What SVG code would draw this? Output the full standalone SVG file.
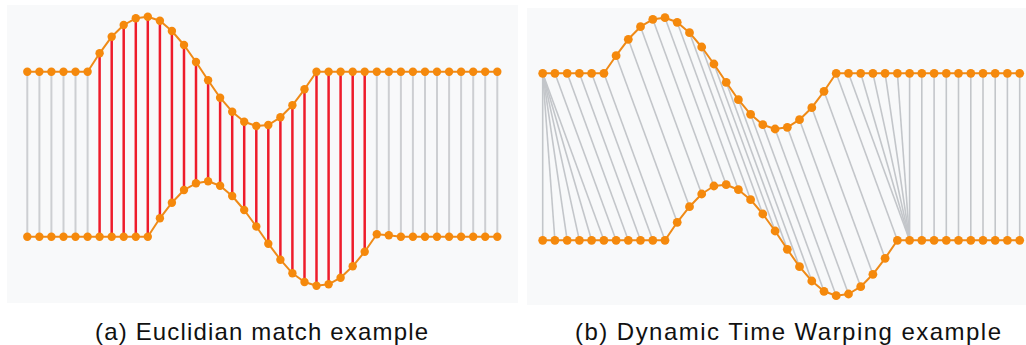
<svg xmlns="http://www.w3.org/2000/svg" width="1026" height="345" viewBox="0 0 1026 345">
<style>
.bg{fill:#f8f9fa}
.g{stroke:#cdcfd2;stroke-width:2;fill:none}
.r{stroke:#ee1c2b;stroke-width:2.5;fill:none}
.dg{stroke:#c3c6ca;stroke-width:1.6;fill:none}
.s{stroke:#ef8a17;stroke-width:2;fill:none;stroke-linejoin:round}
.d{fill:#f5890c}
.cap{font-family:"Liberation Sans",Arial,sans-serif;font-size:24px;fill:#111}
</style>
<rect class="bg" x="7" y="5" width="511" height="298"/>
<rect class="bg" x="527" y="8" width="499" height="297"/>

<g id="panel-a">
<g id="connectors-a">
<line class="g" x1="27.3" y1="71.7" x2="27.3" y2="236.7"/>
<line class="g" x1="39.4" y1="71.7" x2="39.4" y2="236.7"/>
<line class="g" x1="51.4" y1="71.7" x2="51.4" y2="236.7"/>
<line class="g" x1="63.5" y1="71.7" x2="63.5" y2="236.7"/>
<line class="g" x1="75.5" y1="71.7" x2="75.5" y2="236.7"/>
<line class="g" x1="87.6" y1="71.7" x2="87.6" y2="236.7"/>
<line class="g" x1="376.8" y1="71.7" x2="376.8" y2="234.3"/>
<line class="g" x1="388.8" y1="71.7" x2="388.8" y2="235.3"/>
<line class="g" x1="400.9" y1="71.7" x2="400.9" y2="236.7"/>
<line class="g" x1="412.9" y1="71.7" x2="412.9" y2="236.7"/>
<line class="g" x1="425" y1="71.7" x2="425" y2="236.7"/>
<line class="g" x1="437" y1="71.7" x2="437" y2="236.7"/>
<line class="g" x1="449.1" y1="71.7" x2="449.1" y2="236.7"/>
<line class="g" x1="461.1" y1="71.7" x2="461.1" y2="236.7"/>
<line class="g" x1="473.2" y1="71.7" x2="473.2" y2="236.7"/>
<line class="g" x1="485.2" y1="71.7" x2="485.2" y2="236.7"/>
<line class="g" x1="497.3" y1="71.7" x2="497.3" y2="236.7"/>
<line class="r" x1="99.6" y1="53.3" x2="99.6" y2="236.7"/>
<line class="r" x1="111.7" y1="36.7" x2="111.7" y2="236.7"/>
<line class="r" x1="123.7" y1="25" x2="123.7" y2="236.7"/>
<line class="r" x1="135.8" y1="18.3" x2="135.8" y2="236.7"/>
<line class="r" x1="147.8" y1="16.7" x2="147.8" y2="236.7"/>
<line class="r" x1="159.9" y1="20.7" x2="159.9" y2="218.3"/>
<line class="r" x1="171.9" y1="31" x2="171.9" y2="202.7"/>
<line class="r" x1="184" y1="45" x2="184" y2="190"/>
<line class="r" x1="196" y1="62" x2="196" y2="183.3"/>
<line class="r" x1="208.1" y1="80.3" x2="208.1" y2="181.3"/>
<line class="r" x1="220.1" y1="97.7" x2="220.1" y2="185.7"/>
<line class="r" x1="232.2" y1="111.7" x2="232.2" y2="196"/>
<line class="r" x1="244.2" y1="121.7" x2="244.2" y2="210"/>
<line class="r" x1="256.3" y1="126" x2="256.3" y2="226.5"/>
<line class="r" x1="268.3" y1="125" x2="268.3" y2="243.7"/>
<line class="r" x1="280.4" y1="117.3" x2="280.4" y2="259.7"/>
<line class="r" x1="292.4" y1="105.3" x2="292.4" y2="273.3"/>
<line class="r" x1="304.5" y1="89.3" x2="304.5" y2="282"/>
<line class="r" x1="316.5" y1="71.7" x2="316.5" y2="285.7"/>
<line class="r" x1="328.6" y1="71.7" x2="328.6" y2="284.3"/>
<line class="r" x1="340.6" y1="71.7" x2="340.6" y2="277.7"/>
<line class="r" x1="352.7" y1="71.7" x2="352.7" y2="266.3"/>
<line class="r" x1="364.7" y1="71.7" x2="364.7" y2="251.7"/>
</g>
<g id="series-a-top">
<polyline class="s" points="27.3,71.7 87.6,71.7 99.6,53.3 111.7,36.7 123.7,25 135.8,18.3 147.8,16.7 159.9,20.7 171.9,31 184,45 196,62 208.1,80.3 220.1,97.7 232.2,111.7 244.2,121.7 256.3,126 268.3,125 280.4,117.3 292.4,105.3 304.5,89.3 316.5,71.7 497.3,71.7"/>
<circle class="d" r="4.2" cx="27.3" cy="71.7"/><circle class="d" r="4.2" cx="39.4" cy="71.7"/><circle class="d" r="4.2" cx="51.4" cy="71.7"/><circle class="d" r="4.2" cx="63.5" cy="71.7"/><circle class="d" r="4.2" cx="75.5" cy="71.7"/><circle class="d" r="4.2" cx="87.6" cy="71.7"/>
<circle class="d" r="4.2" cx="99.6" cy="53.3"/><circle class="d" r="4.2" cx="111.7" cy="36.7"/><circle class="d" r="4.2" cx="123.7" cy="25"/><circle class="d" r="4.2" cx="135.8" cy="18.3"/><circle class="d" r="4.2" cx="147.8" cy="16.7"/><circle class="d" r="4.2" cx="159.9" cy="20.7"/><circle class="d" r="4.2" cx="171.9" cy="31"/><circle class="d" r="4.2" cx="184" cy="45"/><circle class="d" r="4.2" cx="196" cy="62"/><circle class="d" r="4.2" cx="208.1" cy="80.3"/><circle class="d" r="4.2" cx="220.1" cy="97.7"/><circle class="d" r="4.2" cx="232.2" cy="111.7"/><circle class="d" r="4.2" cx="244.2" cy="121.7"/><circle class="d" r="4.2" cx="256.3" cy="126"/><circle class="d" r="4.2" cx="268.3" cy="125"/><circle class="d" r="4.2" cx="280.4" cy="117.3"/><circle class="d" r="4.2" cx="292.4" cy="105.3"/><circle class="d" r="4.2" cx="304.5" cy="89.3"/>
<circle class="d" r="4.2" cx="316.5" cy="71.7"/><circle class="d" r="4.2" cx="328.6" cy="71.7"/><circle class="d" r="4.2" cx="340.6" cy="71.7"/><circle class="d" r="4.2" cx="352.7" cy="71.7"/><circle class="d" r="4.2" cx="364.7" cy="71.7"/><circle class="d" r="4.2" cx="376.8" cy="71.7"/><circle class="d" r="4.2" cx="388.8" cy="71.7"/><circle class="d" r="4.2" cx="400.9" cy="71.7"/><circle class="d" r="4.2" cx="412.9" cy="71.7"/><circle class="d" r="4.2" cx="425" cy="71.7"/><circle class="d" r="4.2" cx="437" cy="71.7"/><circle class="d" r="4.2" cx="449.1" cy="71.7"/><circle class="d" r="4.2" cx="461.1" cy="71.7"/><circle class="d" r="4.2" cx="473.2" cy="71.7"/><circle class="d" r="4.2" cx="485.2" cy="71.7"/><circle class="d" r="4.2" cx="497.3" cy="71.7"/>
</g>
<g id="series-a-bottom">
<polyline class="s" points="27.3,236.7 147.8,236.7 159.9,218.3 171.9,202.7 184,190 196,183.3 208.1,181.3 220.1,185.7 232.2,196 244.2,210 256.3,226.5 268.3,243.7 280.4,259.7 292.4,273.3 304.5,282 316.5,285.7 328.6,284.3 340.6,277.7 352.7,266.3 364.7,251.7 376.8,234.3 388.8,235.3 400.9,236.7 497.3,236.7"/>
<circle class="d" r="4.2" cx="27.3" cy="236.7"/><circle class="d" r="4.2" cx="39.4" cy="236.7"/><circle class="d" r="4.2" cx="51.4" cy="236.7"/><circle class="d" r="4.2" cx="63.5" cy="236.7"/><circle class="d" r="4.2" cx="75.5" cy="236.7"/><circle class="d" r="4.2" cx="87.6" cy="236.7"/><circle class="d" r="4.2" cx="99.6" cy="236.7"/><circle class="d" r="4.2" cx="111.7" cy="236.7"/><circle class="d" r="4.2" cx="123.7" cy="236.7"/><circle class="d" r="4.2" cx="135.8" cy="236.7"/><circle class="d" r="4.2" cx="147.8" cy="236.7"/>
<circle class="d" r="4.2" cx="159.9" cy="218.3"/><circle class="d" r="4.2" cx="171.9" cy="202.7"/><circle class="d" r="4.2" cx="184" cy="190"/><circle class="d" r="4.2" cx="196" cy="183.3"/><circle class="d" r="4.2" cx="208.1" cy="181.3"/><circle class="d" r="4.2" cx="220.1" cy="185.7"/><circle class="d" r="4.2" cx="232.2" cy="196"/><circle class="d" r="4.2" cx="244.2" cy="210"/><circle class="d" r="4.2" cx="256.3" cy="226.5"/><circle class="d" r="4.2" cx="268.3" cy="243.7"/><circle class="d" r="4.2" cx="280.4" cy="259.7"/><circle class="d" r="4.2" cx="292.4" cy="273.3"/><circle class="d" r="4.2" cx="304.5" cy="282"/><circle class="d" r="4.2" cx="316.5" cy="285.7"/><circle class="d" r="4.2" cx="328.6" cy="284.3"/><circle class="d" r="4.2" cx="340.6" cy="277.7"/><circle class="d" r="4.2" cx="352.7" cy="266.3"/><circle class="d" r="4.2" cx="364.7" cy="251.7"/><circle class="d" r="4.2" cx="376.8" cy="234.3"/><circle class="d" r="4.2" cx="388.8" cy="235.3"/>
<circle class="d" r="4.2" cx="400.9" cy="236.7"/><circle class="d" r="4.2" cx="412.9" cy="236.7"/><circle class="d" r="4.2" cx="425" cy="236.7"/><circle class="d" r="4.2" cx="437" cy="236.7"/><circle class="d" r="4.2" cx="449.1" cy="236.7"/><circle class="d" r="4.2" cx="461.1" cy="236.7"/><circle class="d" r="4.2" cx="473.2" cy="236.7"/><circle class="d" r="4.2" cx="485.2" cy="236.7"/><circle class="d" r="4.2" cx="497.3" cy="236.7"/>
</g>
</g>

<g id="panel-b">
<g id="connectors-b">
<line class="dg" x1="542.7" y1="73.3" x2="542.7" y2="240.3"/>
<line class="dg" x1="542.7" y1="73.3" x2="554.9" y2="240.3"/>
<line class="dg" x1="542.7" y1="73.3" x2="567.2" y2="240.3"/>
<line class="dg" x1="542.7" y1="73.3" x2="579.4" y2="240.3"/>
<line class="dg" x1="542.7" y1="73.3" x2="591.6" y2="240.3"/>
<line class="dg" x1="542.7" y1="73.3" x2="603.9" y2="240.3"/>
<line class="dg" x1="554.9" y1="73.3" x2="616.1" y2="240.3"/>
<line class="dg" x1="567.2" y1="73.3" x2="628.3" y2="240.3"/>
<line class="dg" x1="579.4" y1="73.3" x2="640.5" y2="240.3"/>
<line class="dg" x1="591.6" y1="73.3" x2="652.8" y2="240.3"/>
<line class="dg" x1="603.9" y1="73.3" x2="665" y2="240.3"/>
<line class="dg" x1="616.1" y1="55.7" x2="677.2" y2="222.3"/>
<line class="dg" x1="628.3" y1="39.3" x2="689.5" y2="206.7"/>
<line class="dg" x1="640.5" y1="26.7" x2="701.7" y2="194"/>
<line class="dg" x1="652.8" y1="19.3" x2="713.9" y2="186"/>
<line class="dg" x1="665" y1="17.7" x2="726.2" y2="184.7"/>
<line class="dg" x1="677.2" y1="22.3" x2="738.4" y2="189.7"/>
<line class="dg" x1="689.5" y1="32.7" x2="750.6" y2="199.7"/>
<line class="dg" x1="701.7" y1="47" x2="762.8" y2="214"/>
<line class="dg" x1="713.9" y1="64" x2="775.1" y2="231"/>
<line class="dg" x1="726.2" y1="82.3" x2="787.3" y2="249.3"/>
<line class="dg" x1="738.4" y1="99.7" x2="799.5" y2="266.7"/>
<line class="dg" x1="750.6" y1="114.3" x2="811.8" y2="281"/>
<line class="dg" x1="762.8" y1="124.7" x2="824" y2="291.3"/>
<line class="dg" x1="775.1" y1="129" x2="836.2" y2="295.7"/>
<line class="dg" x1="787.3" y1="127.3" x2="848.5" y2="294"/>
<line class="dg" x1="799.5" y1="119.7" x2="860.7" y2="286.7"/>
<line class="dg" x1="811.8" y1="107.7" x2="872.9" y2="274.3"/>
<line class="dg" x1="824" y1="91.3" x2="885.1" y2="258.3"/>
<line class="dg" x1="836.2" y1="73.3" x2="897.4" y2="240.3"/>
<line class="dg" x1="848.5" y1="73.3" x2="909.6" y2="240.3"/>
<line class="dg" x1="860.7" y1="73.3" x2="909.6" y2="240.3"/>
<line class="dg" x1="872.9" y1="73.3" x2="909.6" y2="240.3"/>
<line class="dg" x1="885.1" y1="73.3" x2="909.6" y2="240.3"/>
<line class="dg" x1="897.4" y1="73.3" x2="909.6" y2="240.3"/>
<line class="dg" x1="909.6" y1="73.3" x2="909.6" y2="240.3"/>
<line class="dg" x1="921.8" y1="73.3" x2="921.8" y2="240.3"/>
<line class="dg" x1="934.1" y1="73.3" x2="934.1" y2="240.3"/>
<line class="dg" x1="946.3" y1="73.3" x2="946.3" y2="240.3"/>
<line class="dg" x1="958.5" y1="73.3" x2="958.5" y2="240.3"/>
<line class="dg" x1="970.8" y1="73.3" x2="970.8" y2="240.3"/>
<line class="dg" x1="983" y1="73.3" x2="983" y2="240.3"/>
<line class="dg" x1="995.2" y1="73.3" x2="995.2" y2="240.3"/>
<line class="dg" x1="1007.4" y1="73.3" x2="1007.4" y2="240.3"/>
<line class="dg" x1="1019.7" y1="73.3" x2="1019.7" y2="240.3"/>
</g>
<g id="series-b-top">
<polyline class="s" points="542.7,73.3 603.9,73.3 616.1,55.7 628.3,39.3 640.5,26.7 652.8,19.3 665,17.7 677.2,22.3 689.5,32.7 701.7,47 713.9,64 726.2,82.3 738.4,99.7 750.6,114.3 762.8,124.7 775.1,129 787.3,127.3 799.5,119.7 811.8,107.7 824,91.3 836.2,73.3 1019.7,73.3"/>
<circle class="d" r="4.4" cx="542.7" cy="73.3"/><circle class="d" r="4.4" cx="554.9" cy="73.3"/><circle class="d" r="4.4" cx="567.2" cy="73.3"/><circle class="d" r="4.4" cx="579.4" cy="73.3"/><circle class="d" r="4.4" cx="591.6" cy="73.3"/><circle class="d" r="4.4" cx="603.9" cy="73.3"/>
<circle class="d" r="4.4" cx="616.1" cy="55.7"/><circle class="d" r="4.4" cx="628.3" cy="39.3"/><circle class="d" r="4.4" cx="640.5" cy="26.7"/><circle class="d" r="4.4" cx="652.8" cy="19.3"/><circle class="d" r="4.4" cx="665" cy="17.7"/><circle class="d" r="4.4" cx="677.2" cy="22.3"/><circle class="d" r="4.4" cx="689.5" cy="32.7"/><circle class="d" r="4.4" cx="701.7" cy="47"/><circle class="d" r="4.4" cx="713.9" cy="64"/><circle class="d" r="4.4" cx="726.2" cy="82.3"/><circle class="d" r="4.4" cx="738.4" cy="99.7"/><circle class="d" r="4.4" cx="750.6" cy="114.3"/><circle class="d" r="4.4" cx="762.8" cy="124.7"/><circle class="d" r="4.4" cx="775.1" cy="129"/><circle class="d" r="4.4" cx="787.3" cy="127.3"/><circle class="d" r="4.4" cx="799.5" cy="119.7"/><circle class="d" r="4.4" cx="811.8" cy="107.7"/><circle class="d" r="4.4" cx="824" cy="91.3"/>
<circle class="d" r="4.4" cx="836.2" cy="73.3"/><circle class="d" r="4.4" cx="848.5" cy="73.3"/><circle class="d" r="4.4" cx="860.7" cy="73.3"/><circle class="d" r="4.4" cx="872.9" cy="73.3"/><circle class="d" r="4.4" cx="885.1" cy="73.3"/><circle class="d" r="4.4" cx="897.4" cy="73.3"/><circle class="d" r="4.4" cx="909.6" cy="73.3"/><circle class="d" r="4.4" cx="921.8" cy="73.3"/><circle class="d" r="4.4" cx="934.1" cy="73.3"/><circle class="d" r="4.4" cx="946.3" cy="73.3"/><circle class="d" r="4.4" cx="958.5" cy="73.3"/><circle class="d" r="4.4" cx="970.8" cy="73.3"/><circle class="d" r="4.4" cx="983" cy="73.3"/><circle class="d" r="4.4" cx="995.2" cy="73.3"/><circle class="d" r="4.4" cx="1007.4" cy="73.3"/><circle class="d" r="4.4" cx="1019.7" cy="73.3"/>
</g>
<g id="series-b-bottom">
<polyline class="s" points="542.7,240.3 665,240.3 677.2,222.3 689.5,206.7 701.7,194 713.9,186 726.2,184.7 738.4,189.7 750.6,199.7 762.8,214 775.1,231 787.3,249.3 799.5,266.7 811.8,281 824,291.3 836.2,295.7 848.5,294 860.7,286.7 872.9,274.3 885.1,258.3 897.4,240.3 1019.7,240.3"/>
<circle class="d" r="4.4" cx="542.7" cy="240.3"/><circle class="d" r="4.4" cx="554.9" cy="240.3"/><circle class="d" r="4.4" cx="567.2" cy="240.3"/><circle class="d" r="4.4" cx="579.4" cy="240.3"/><circle class="d" r="4.4" cx="591.6" cy="240.3"/><circle class="d" r="4.4" cx="603.9" cy="240.3"/><circle class="d" r="4.4" cx="616.1" cy="240.3"/><circle class="d" r="4.4" cx="628.3" cy="240.3"/><circle class="d" r="4.4" cx="640.5" cy="240.3"/><circle class="d" r="4.4" cx="652.8" cy="240.3"/><circle class="d" r="4.4" cx="665" cy="240.3"/>
<circle class="d" r="4.4" cx="677.2" cy="222.3"/><circle class="d" r="4.4" cx="689.5" cy="206.7"/><circle class="d" r="4.4" cx="701.7" cy="194"/><circle class="d" r="4.4" cx="713.9" cy="186"/><circle class="d" r="4.4" cx="726.2" cy="184.7"/><circle class="d" r="4.4" cx="738.4" cy="189.7"/><circle class="d" r="4.4" cx="750.6" cy="199.7"/><circle class="d" r="4.4" cx="762.8" cy="214"/><circle class="d" r="4.4" cx="775.1" cy="231"/><circle class="d" r="4.4" cx="787.3" cy="249.3"/><circle class="d" r="4.4" cx="799.5" cy="266.7"/><circle class="d" r="4.4" cx="811.8" cy="281"/><circle class="d" r="4.4" cx="824" cy="291.3"/><circle class="d" r="4.4" cx="836.2" cy="295.7"/><circle class="d" r="4.4" cx="848.5" cy="294"/><circle class="d" r="4.4" cx="860.7" cy="286.7"/><circle class="d" r="4.4" cx="872.9" cy="274.3"/><circle class="d" r="4.4" cx="885.1" cy="258.3"/>
<circle class="d" r="4.4" cx="897.4" cy="240.3"/><circle class="d" r="4.4" cx="909.6" cy="240.3"/><circle class="d" r="4.4" cx="921.8" cy="240.3"/><circle class="d" r="4.4" cx="934.1" cy="240.3"/><circle class="d" r="4.4" cx="946.3" cy="240.3"/><circle class="d" r="4.4" cx="958.5" cy="240.3"/><circle class="d" r="4.4" cx="970.8" cy="240.3"/><circle class="d" r="4.4" cx="983" cy="240.3"/><circle class="d" r="4.4" cx="995.2" cy="240.3"/><circle class="d" r="4.4" cx="1007.4" cy="240.3"/><circle class="d" r="4.4" cx="1019.7" cy="240.3"/>
</g>
</g>

<g id="captions">
<text class="cap" x="95" y="340" textLength="333" lengthAdjust="spacing">(a) Euclidian match example</text>
<text class="cap" x="575" y="340" textLength="426" lengthAdjust="spacing">(b) Dynamic Time Warping example</text>
</g>
</svg>
